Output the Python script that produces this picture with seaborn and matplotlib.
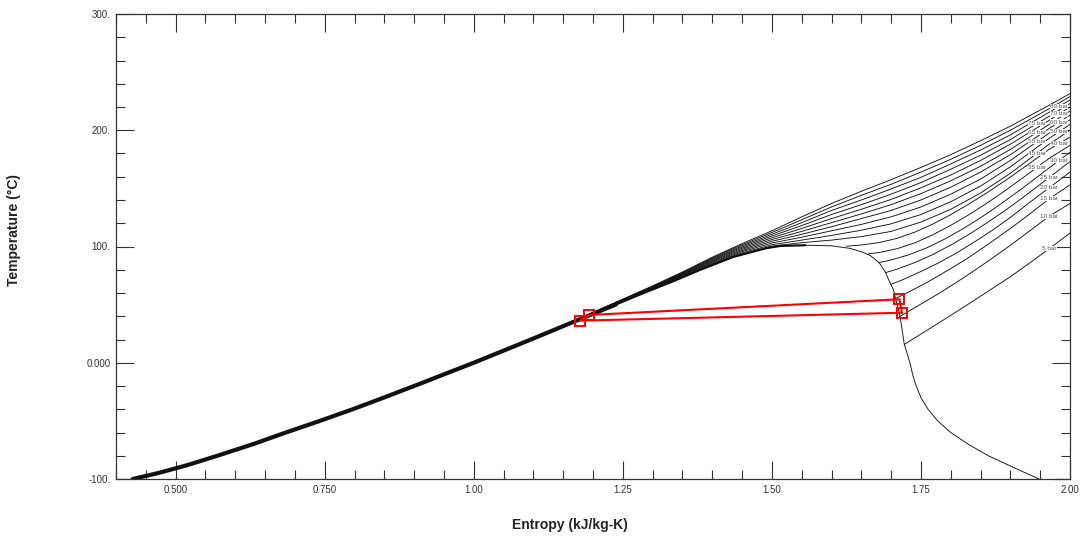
import matplotlib
matplotlib.use("Agg")
import matplotlib.pyplot as plt
import matplotlib.ticker as mticker
import numpy as np
import seaborn as sns

sns.set_theme(style="white")
plt.rcParams["font.family"] = ["Liberation Sans", "DejaVu Sans"]

# ---- saturation dome (entropy kJ/kg-K, temperature degC) ----
s_liquid = [0.428, 0.47, 0.52, 0.57, 0.63, 0.685, 0.742, 0.797, 0.849, 0.900,
            0.950, 1.000, 1.048, 1.096, 1.143, 1.190, 1.238, 1.285, 1.334,
            1.380, 1.435, 1.490, 1.514, 1.556]
t_liquid = [-100, -95, -88, -80, -70, -60, -50, -40, -30, -20,
            -10, 0, 10, 20, 30, 40, 50, 60, 70,
            80, 91, 98.5, 100.5, 101.1]

s_vapor = [1.556, 1.600, 1.631, 1.650, 1.665, 1.680, 1.690, 1.697, 1.704,
           1.710, 1.714, 1.718, 1.722, 1.7315, 1.736, 1.742, 1.750, 1.762,
           1.778, 1.800, 1.829, 1.863, 1.905, 1.948]
t_vapor = [101.1, 100.6, 98.4, 95.5, 92.3, 86.0, 78.3, 70.0, 62.6,
           50.0, 42.5, 30.0, 16.1, 0.0, -10.0, -20.0, -30.0, -40.0,
           -50.0, -60.0, -70.0, -80.0, -90.0, -100.0]

# ---- superheated branches of the subcritical isobars ----
s_5bar = [1.722, 1.74, 1.76, 1.78, 1.80, 1.83, 1.86, 1.90, 1.93, 1.965, 2.00]
t_5bar = [15.7, 21.5, 27.9, 34.3, 40.8, 50.6, 60.6, 74.0, 85.0, 98.0, 111.6]

s_10bar = [1.713, 1.74, 1.76, 1.78, 1.80, 1.83, 1.86, 1.90, 1.93, 1.965, 2.00]
t_10bar = [39.4, 47.5, 53.5, 59.6, 66.0, 76.0, 86.5, 101.0, 112.5, 126.0, 137.0]

s_15bar = [1.707, 1.73, 1.76, 1.78, 1.80, 1.83, 1.86, 1.90, 1.93, 1.965, 2.00]
t_15bar = [55.2, 61.0, 69.0, 75.0, 81.0, 90.5, 101.0, 115.5, 127.0, 141.0, 153.0]

s_20bar = [1.700, 1.72, 1.75, 1.78, 1.81, 1.84, 1.87, 1.90, 1.93, 1.965, 2.00]
t_20bar = [67.5, 71.5, 78.5, 86.0, 94.5, 104.0, 114.0, 125.0, 137.0, 150.5, 164.0]

s_25bar = [1.691, 1.71, 1.74, 1.77, 1.80, 1.83, 1.86, 1.89, 1.92, 1.965, 2.00]
t_25bar = [77.6, 80.5, 86.2, 93.1, 101.2, 110.2, 120.1, 130.6, 141.7, 159.3, 173.0]

s_30bar = [1.680, 1.70, 1.73, 1.76, 1.79, 1.82, 1.85, 1.88, 1.92, 1.965, 2.00]
t_30bar = [86.2, 88.4, 92.9, 98.9, 106.4, 115.1, 124.7, 135.2, 150.0, 167.6, 181.0]

s_35bar = [1.662, 1.68, 1.71, 1.74, 1.77, 1.80, 1.83, 1.86, 1.89, 1.925, 1.965, 2.00]
t_35bar = [93.7, 94.8, 98.1, 103.2, 110.1, 118.2, 127.2, 137.1, 147.6, 160.6, 175.8, 187.0]

s_40bar = [1.625, 1.65, 1.68, 1.71, 1.74, 1.77, 1.80, 1.83, 1.86, 1.89, 1.925, 1.965, 2.00]
t_40bar = [100.3, 101.3, 103.4, 107.0, 112.4, 119.3, 127.4, 136.4, 146.0, 156.2, 168.8, 183.6, 194.0]

# ---- supercritical isobars on a shared entropy grid ----
s_super = [1.20, 1.25, 1.30, 1.35, 1.40, 1.45, 1.50, 1.55, 1.60, 1.65,
           1.70, 1.75, 1.80, 1.85, 1.90, 1.965, 2.00]
t_45bar = [42.30, 52.9, 63.4, 74.0, 84.5, 93.5, 100.3, 103.3, 105.5, 108.5,
           113.0, 121.0, 132.0, 146.0, 163.0, 188.0, 200.0]
t_50bar = [42.42, 53.1, 63.7, 74.45, 85.2, 94.5, 101.5, 105.5, 109.5, 114.0,
           119.5, 127.5, 138.5, 152.0, 168.5, 193.0, 205.0]
t_55bar = [42.54, 53.3, 64.0, 74.9, 85.9, 95.5, 103.0, 108.0, 113.5, 119.0,
           125.5, 134.0, 145.0, 158.0, 174.0, 197.5, 209.0]
t_60bar = [42.66, 53.5, 64.3, 75.35, 86.6, 96.5, 104.5, 110.5, 117.0, 124.0,
           131.0, 140.0, 151.0, 164.0, 179.0, 201.5, 213.0]
t_65bar = [42.78, 53.7, 64.6, 75.8, 87.3, 97.5, 106.0, 113.0, 120.5, 128.0,
           136.0, 145.5, 156.5, 169.0, 183.5, 205.0, 216.5]
t_70bar = [42.90, 53.9, 64.9, 76.25, 88.0, 98.5, 107.5, 115.5, 124.0, 132.0,
           140.5, 150.5, 161.5, 174.0, 188.0, 208.5, 220.0]
t_75bar = [43.02, 54.1, 65.2, 76.7, 88.7, 99.5, 109.0, 118.0, 127.5, 136.0,
           145.0, 155.0, 166.5, 178.5, 192.0, 212.0, 223.0]
t_80bar = [43.14, 54.3, 65.5, 77.15, 89.4, 100.5, 110.5, 120.5, 131.0, 140.0,
           149.5, 159.5, 171.0, 183.0, 196.0, 215.5, 226.0]
t_85bar = [43.26, 54.5, 65.8, 77.6, 90.1, 101.5, 112.0, 123.0, 134.0, 144.0,
           153.5, 164.0, 175.0, 187.0, 200.0, 218.5, 229.0]
t_90bar = [43.38, 54.7, 66.1, 78.05, 90.8, 102.5, 113.5, 125.5, 137.0, 147.5,
           157.5, 168.0, 179.0, 191.0, 203.5, 221.5, 231.5]

# labels for 5 ... 80 bar and the entropy at which each sits on its line
isobar_labels = ["5 bar", "10 bar", "15 bar", "20 bar", "25 bar", "30 bar",
                 "35 bar", "40 bar", "45 bar", "50 bar", "55 bar", "60 bar",
                 "65 bar", "70 bar", "75 bar", "80 bar", None, None]
label_s = [1.965, 1.965, 1.965, 1.965, 1.965, 1.982, 1.945, 1.982, 1.945,
           1.982, 1.945, 1.982, 1.945, 1.982, 1.945, 1.982, None, None]

# ---- refrigeration cycle state points ----
s_cycle = [1.718, 1.714, 1.194, 1.178, 1.718]
t_cycle = [43.0, 54.6, 41.1, 36.2, 43.0]

# ---- axis ticks ----
x_ticks = [0.50, 0.75, 1.00, 1.25, 1.50, 1.75, 2.00]
x_tick_labels = ["0.500", "0.750", "1.00", "1.25", "1.50", "1.75", "2.00"]
y_ticks = [-100, 0, 100, 200, 300]
y_tick_labels = ["-100.", "0.000", "100.", "200.", "300."]

W, H = 1086, 540
fig = plt.figure(figsize=(W / 100, H / 100), dpi=100)
ax = fig.add_axes([116 / W, 1 - 479 / H, (1070 - 116) / W, (479 - 14) / H])

line_kw = dict(color="#111111", linewidth=0.65, sort=False, estimator=None,
               legend=False, ax=ax)

# thick liquid band (compressed-liquid isobars collapse onto it)
n_thick = 17
sns.lineplot(x=s_liquid[:n_thick], y=t_liquid[:n_thick], **{**line_kw, "linewidth": 3.0})
sns.lineplot(x=s_liquid[n_thick - 1:], y=t_liquid[n_thick - 1:], **{**line_kw, "linewidth": 1.6})
sns.lineplot(x=s_vapor, y=t_vapor, **line_kw)

sub_isobars = [(s_5bar, t_5bar), (s_10bar, t_10bar), (s_15bar, t_15bar),
               (s_20bar, t_20bar), (s_25bar, t_25bar), (s_30bar, t_30bar),
               (s_35bar, t_35bar), (s_40bar, t_40bar)]
super_isobars = [(s_super, t) for t in (t_45bar, t_50bar, t_55bar, t_60bar,
                                        t_65bar, t_70bar, t_75bar, t_80bar,
                                        t_85bar, t_90bar)]

for (s_vals, t_vals), label, s_lab in zip(sub_isobars + super_isobars,
                                          isobar_labels, label_s):
    sns.lineplot(x=s_vals, y=t_vals, **line_kw)
    if label is None:
        continue
    ax.text(s_lab, np.interp(s_lab, s_vals, t_vals), label, fontsize=4.6,
            color="#555555", ha="center", va="center", zorder=5,
            bbox=dict(facecolor="white", edgecolor="none", pad=0.1))

# cycle
sns.lineplot(x=s_cycle, y=t_cycle, sort=False, estimator=None, ax=ax,
             color="#ff0000", linewidth=1.5, marker="s", markersize=7,
             markerfacecolor="none", markeredgecolor="#ff0000",
             markeredgewidth=1.4, legend=False, zorder=6)

ax.set_xlim(0.40, 2.00)
ax.set_ylim(-100, 300)

ax.xaxis.set_major_locator(mticker.FixedLocator(x_ticks))
ax.xaxis.set_major_formatter(mticker.FixedFormatter(x_tick_labels))
ax.xaxis.set_minor_locator(mticker.MultipleLocator(0.05))
ax.yaxis.set_major_locator(mticker.FixedLocator(y_ticks))
ax.yaxis.set_major_formatter(mticker.FixedFormatter(y_tick_labels))
ax.yaxis.set_minor_locator(mticker.MultipleLocator(20))

ax.tick_params(which="both", direction="in", top=True, right=True,
               bottom=True, left=True, color="#333333", width=0.8)
ax.tick_params(which="major", length=13, labelsize=7, labelcolor="#333333", pad=4)
ax.tick_params(which="minor", length=6.5)

for sp in ax.spines.values():
    sp.set_color("#333333")
    sp.set_linewidth(0.9)

ax.set_xlabel("Entropy (kJ/kg-K)", fontsize=10, fontweight="bold", color="#222222")
ax.set_ylabel("Temperature (\u00b0C)", fontsize=10, fontweight="bold", color="#222222")
ax.xaxis.set_label_coords(0.476, -0.084)
ax.yaxis.set_label_coords(-0.0996, 0.535)

fig.savefig("out.png", dpi=100, facecolor="white")
